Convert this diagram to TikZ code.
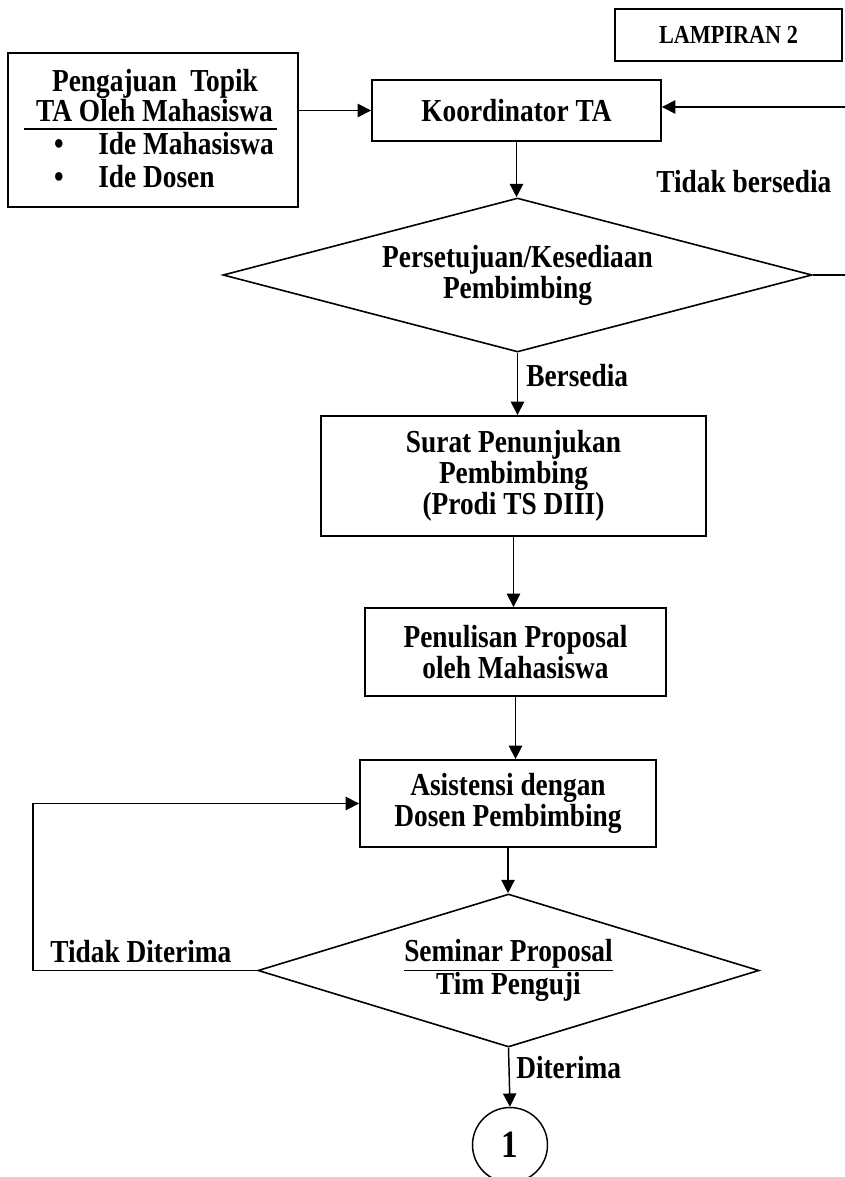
\documentclass[tikz,border=0pt]{standalone}
\usepackage{fontspec}
\setmainfont{Liberation Serif}[FakeStretch=0.855]
\usetikzlibrary{shapes.geometric}
\usetikzlibrary{arrows.meta}
\usetikzlibrary{calc}
\tikzset{kotak/.style={draw,line width=#1,inner sep=0pt,align=center},kotak/.default=1.4pt}
\tikzset{panah/.style={line width=#1,-{Triangle[length=10pt,width=10pt]}},panah/.default=1.1pt}
\newcommand{\hurufutama}{\bfseries\fontsize{24}{23.25}\selectfont}

\begin{document}
\begin{tikzpicture}[x=0.75pt,y=-0.75pt,
                    every node/.style={font=\hurufutama},
                    keputusan/.style={draw,diamond,line width=1.2pt,inner sep=0pt,align=center},
                    teks/.style={inner sep=0pt},
                    garis/.style={line width=1.1pt}]

    \useasboundingbox (0,0) rectangle (844,1177);

    % Kotak "LAMPIRAN 2"
    \node [kotak, minimum width=170.25pt, minimum height=39pt,
           font=\bfseries\fontsize{19.5}{20}\selectfont] (lampiran) at (728.5,35) {LAMPIRAN 2};

    % Kotak pengajuan topik dan isinya
    \node [kotak, minimum width=217.5pt, minimum height=115.5pt] (topik) at (153,130) {};
    \node [teks, anchor=base] (topik1) at (155,92) {Pengajuan\ \ Topik};
    \node [teks, anchor=base] (topik2) at (154.5,122) {TA Oleh Mahasiswa};
    \draw [garis] (24,129) -- (277,129);
    \node [teks, anchor=base] (bulet1) at (59,155) {\textbullet};
    \node [teks, anchor=base] (bulet2) at (59,187) {\textbullet};
    \node [teks, anchor=base west] (ide1) at (98,155) {Ide Mahasiswa};
    \node [teks, anchor=base west] (ide2) at (98,187) {Ide Dosen};

    % Koordinator TA
    \node [kotak, minimum width=216.75pt, minimum height=45.75pt] (koord) at (516.5,110.5) {Koordinator TA};
    \draw [panah] (topik.east |- koord.west) -- (koord.west);

    % Keputusan pembimbing
    \node [keputusan, aspect=3.8, minimum width=441.75pt, minimum height=115.5pt]
        (setuju) at (517.5,275) {Persetujuan/Kesediaan\\Pembimbing};
    \draw [panah] (koord.south) -- (koord.south |- setuju.north);

    % Jalur "Tidak bersedia" (keluar di tepi kanan)
    \coordinate (kanan1) at (846,275);
    \coordinate (kanan2) at (846,107);
    \draw [garis] (setuju.east) -- (kanan1);
    \draw [panah] (kanan2) -- (koord.east |- kanan2);
    \node [teks, anchor=base west] (tidakbersedia) at (656,192) {Tidak bersedia};

    % Surat penunjukan
    \node [kotak, minimum width=288.75pt, minimum height=90pt]
        (surat) at (513.5,476) {Surat Penunjukan\\Pembimbing\\(Prodi TS DIII)};
    \draw [panah] (setuju.south) -- (setuju.south |- surat.north);
    \node [teks, anchor=base west] (bersedia) at (526,386) {Bersedia};

    % Penulisan proposal
    \node [kotak, minimum width=225.75pt, minimum height=66pt]
        (penulisan) at (515.5,652) {Penulisan Proposal\\oleh Mahasiswa};
    \draw [panah] (surat.south) -- (surat.south |- penulisan.north);

    % Asistensi
    \node [kotak, minimum width=222pt, minimum height=65.25pt]
        (asistensi) at (508,803.5) {Asistensi dengan\\Dosen Pembimbing};
    \draw [panah] (penulisan.south) -- (penulisan.south |- asistensi.north);

    % Seminar proposal
    \node [keputusan, aspect=3.27, minimum width=375.75pt, minimum height=114.75pt]
        (seminar) at (508.5,970.5) {\underline{Seminar Proposal}\\Tim Penguji};
    \draw [panah] (asistensi.south) -- (asistensi.south |- seminar.north);

    % Jalur "Tidak Diterima" kembali ke asistensi
    \coordinate (kiri) at (33,970.5);
    \draw [panah] (seminar.west) -- (kiri) |- (asistensi.west);
    \node [teks, anchor=base west] (tidakditerima) at (50,962) {Tidak Diterima};

    % Penghubung ke halaman berikut
    \node [draw, circle, line width=1.1pt, minimum size=56.25pt, inner sep=0pt,
           font=\bfseries\fontsize{29}{30}\selectfont] (satu) at (510,1145) {1};
    \draw [panah] (seminar.south) -- (satu.north);
    \node [teks, anchor=base west] (diterima) at (516,1078) {Diterima};

\end{tikzpicture}
\end{document}
